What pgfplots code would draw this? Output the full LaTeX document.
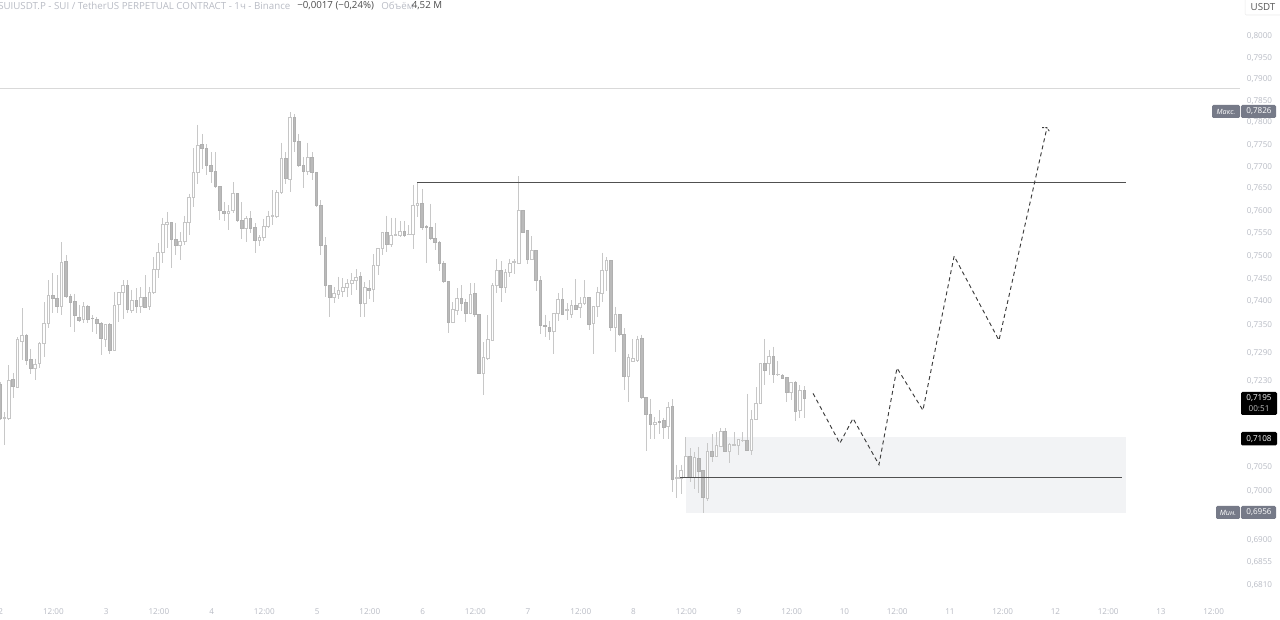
\documentclass[border=0pt]{standalone}
\usepackage{pgfplots}
\usepackage{pgfplotstable}
\usepackage{fontspec}
\setmainfont{Open Sans}
\pgfplotsset{compat=1.18}
\definecolor{lab}{HTML}{B8BBC4}
\definecolor{wick}{HTML}{C8C8C8}
\definecolor{upb}{HTML}{C6C6C6}
\definecolor{dnf}{HTML}{BABABA}
\definecolor{dnb}{HTML}{B0B0B0}
\definecolor{zone}{HTML}{F2F3F5}
\definecolor{lev}{HTML}{505050}
\definecolor{dash}{HTML}{3C3C3C}
\definecolor{stat}{HTML}{767A88}
\pgfplotstableread{
t o h l c
0 .7221 .7226 .7145 .7149
1 .7149 .7162 .7093 .7151
2 .7149 .7261 .7145 .7230
3 .7231 .7245 .7191 .7216
4 .7215 .7321 .7213 .7317
5 .7313 .7384 .7272 .7326
6 .7326 .7330 .7262 .7272
7 .7274 .7297 .7243 .7255
8 .7256 .7276 .7230 .7264
9 .7265 .7311 .7255 .7308
10 .7308 .7397 .7278 .7352
11 .7352 .7445 .7340 .7412
12 .7411 .7460 .7373 .7405
13 .7405 .7456 .7375 .7387
14 .7388 .7529 .7369 .7485
15 .7487 .7500 .7407 .7410
16 .7410 .7416 .7343 .7397
17 .7399 .7416 .7332 .7367
18 .7365 .7392 .7354 .7358
19 .7360 .7397 .7351 .7387
20 .7387 .7392 .7351 .7360
21 .7363 .7369 .7332 .7362
22 .7360 .7365 .7330 .7351
23 .7351 .7354 .7282 .7320
24 .7318 .7349 .7300 .7349
25 .7349 .7351 .7285 .7293
26 .7293 .7419 .7291 .7390
27 .7392 .7419 .7354 .7418
28 .7418 .7445 .7360 .7434
29 .7434 .7445 .7373 .7381
30 .7380 .7425 .7373 .7400
31 .7400 .7427 .7375 .7387
32 .7387 .7430 .7373 .7408
33 .7408 .7456 .7384 .7386
34 .7387 .7431 .7380 .7419
35 .7418 .7496 .7416 .7469
36 .7469 .7526 .7450 .7505
37 .7505 .7584 .7482 .7568
38 .7568 .7596 .7515 .7573
39 .7573 .7573 .7471 .7535
40 .7535 .7572 .7500 .7521
41 .7521 .7551 .7489 .7530
42 .7530 .7588 .7522 .7573
43 .7573 .7637 .7544 .7627
44 .7627 .7739 .7607 .7685
45 .7685 .7794 .7659 .7747
46 .7749 .7772 .7693 .7739
47 .7740 .7749 .7678 .7700
48 .7700 .7731 .7661 .7687
49 .7687 .7731 .7650 .7653
50 .7653 .7653 .7579 .7600
51 .7598 .7618 .7577 .7593
52 .7593 .7610 .7555 .7598
53 .7600 .7663 .7593 .7638
54 .7638 .7638 .7573 .7576
55 .7576 .7618 .7537 .7559
56 .7559 .7586 .7530 .7581
57 .7581 .7597 .7548 .7559
58 .7561 .7570 .7505 .7533
59 .7533 .7544 .7520 .7539
60 .7539 .7581 .7533 .7564
61 .7564 .7599 .7561 .7586
62 .7586 .7644 .7566 .7587
63 .7586 .7644 .7584 .7640
64 .7639 .7753 .7637 .7716
65 .7716 .7731 .7659 .7671
66 .7669 .7822 .7640 .7809
67 .7809 .7817 .7731 .7755
68 .7755 .7772 .7697 .7700
69 .7700 .7719 .7650 .7687
70 .7687 .7753 .7678 .7718
71 .7718 .7731 .7667 .7685
72 .7685 .7685 .7607 .7610
73 .7610 .7622 .7500 .7522
74 .7522 .7540 .7408 .7434
75 .7434 .7434 .7365 .7408
76 .7408 .7430 .7395 .7416
77 .7414 .7453 .7405 .7423
78 .7421 .7449 .7408 .7430
79 .7430 .7447 .7408 .7439
80 .7438 .7460 .7412 .7444
81 .7444 .7469 .7423 .7452
82 .7453 .7463 .7366 .7395
83 .7395 .7441 .7366 .7429
84 .7428 .7445 .7405 .7423
85 .7425 .7503 .7397 .7478
86 .7478 .7515 .7456 .7515
87 .7515 .7551 .7500 .7551
88 .7551 .7588 .7507 .7524
89 .7524 .7584 .7518 .7544
90 .7544 .7584 .7542 .7545
91 .7543 .7576 .7540 .7553
92 .7553 .7576 .7540 .7543
93 .7546 .7566 .7544 .7547
94 .7547 .7657 .7513 .7610
95 .7610 .7660 .7585 .7615
96 .7615 .7648 .7555 .7561
97 .7563 .7566 .7483 .7560
98 .7561 .7615 .7534 .7537
99 .7537 .7570 .7511 .7529
100 .7529 .7533 .7464 .7482
101 .7482 .7487 .7438 .7441
102 .7441 .7441 .7331 .7354
103 .7354 .7397 .7352 .7381
104 .7380 .7427 .7369 .7405
105 .7405 .7434 .7377 .7395
106 .7396 .7405 .7354 .7374
107 .7374 .7439 .7371 .7414
108 .7416 .7439 .7366 .7371
109 .7371 .7371 .7243 .7244
110 .7244 .7311 .7198 .7278
111 .7277 .7369 .7272 .7316
112 .7315 .7438 .7314 .7434
113 .7434 .7491 .7417 .7467
114 .7467 .7487 .7397 .7430
115 .7430 .7469 .7417 .7463
116 .7463 .7492 .7452 .7483
117 .7485 .7491 .7459 .7486
118 .7482 .7676 .7481 .7601
119 .7601 .7601 .7548 .7551
120 .7555 .7555 .7481 .7491
121 .7491 .7542 .7489 .7511
122 .7511 .7511 .7422 .7444
123 .7444 .7454 .7329 .7346
124 .7346 .7370 .7321 .7345
125 .7343 .7356 .7316 .7334
126 .7334 .7373 .7285 .7373
127 .7372 .7417 .7356 .7403
128 .7403 .7427 .7369 .7371
129 .7380 .7395 .7358 .7381
130 .7371 .7401 .7362 .7390
131 .7391 .7447 .7380 .7382
132 .7386 .7408 .7362 .7394
133 .7394 .7445 .7390 .7407
134 .7407 .7408 .7336 .7349
135 .7351 .7388 .7286 .7388
136 .7388 .7431 .7365 .7418
137 .7417 .7505 .7397 .7467
138 .7467 .7496 .7422 .7490
139 .7490 .7490 .7334 .7344
140 .7344 .7387 .7289 .7371
141 .7371 .7371 .7324 .7327
142 .7327 .7340 .7208 .7238
143 .7238 .7286 .7183 .7278
144 .7270 .7318 .7268 .7277
145 .7271 .7325 .7268 .7318
146 .7320 .7327 .7190 .7193
147 .7193 .7193 .7081 .7157
148 .7157 .7190 .7107 .7136
149 .7137 .7152 .7107 .7141
150 .7142 .7166 .7117 .7141
151 .7145 .7151 .7107 .7131
152 .7132 .7183 .7107 .7172
153 .7175 .7189 .6996 .7022
154 .7024 .7052 .6983 .7025
155 .7024 .7052 .6993 .7040
156 .7026 .7109 .7024 .7069
157 .7069 .7086 .7017 .7026
158 .7026 .7079 .7001 .7068
159 .7066 .7089 .6994 .7038
160 .7040 .7040 .6953 .6984
161 .6983 .7096 .6978 .7081
162 .7081 .7116 .7058 .7070
163 .7070 .7120 .7070 .7093
164 .7090 .7129 .7090 .7121
165 .7121 .7128 .7079 .7079
166 .7079 .7096 .7055 .7095
167 .7093 .7120 .7091 .7094
168 .7093 .7106 .7072 .7105
169 .7103 .7120 .7100 .7104
170 .7103 .7201 .7081 .7083
171 .7083 .7166 .7073 .7147
172 .7147 .7215 .7145 .7181
173 .7180 .7266 .7179 .7266
174 .7266 .7318 .7219 .7251
175 .7265 .7294 .7241 .7280
176 .7280 .7301 .7223 .7241
177 .7242 .7271 .7238 .7243
178 .7240 .7242 .7232 .7233
179 .7235 .7235 .7183 .7205
180 .7205 .7225 .7187 .7225
181 .7226 .7228 .7143 .7164
182 .7165 .7219 .7151 .7208
183 .7208 .7217 .7150 .7191
}\candles
\begin{document}
\begin{tikzpicture}
\path[use as bounding box] (0,0) rectangle (960pt,465pt);
\begin{axis}[
  at={(0,15pt)}, anchor=south west,
  width=930pt, height=450pt, scale only axis,
  xmin=0, xmax=282.15,
  ymode=log, ymin=0.67776, ymax=0.80826,
  axis line style={draw=none},
  clip=true,
  major tick length=0pt, minor tick length=0pt,
  ytick={0.8,0.795,0.79,0.785,0.78,0.775,0.77,0.765,0.76,0.755,0.75,0.745,0.74,0.735,0.729,0.723,0.705,0.70,0.69,0.6855,0.681},
  yticklabels={{0,8000},{0,7950},{0,7900},{0,7850},{0,7800},{0,7750},{0,7700},{0,7650},{0,7600},{0,7550},{0,7500},{0,7450},{0,7400},{0,7350},{0,7290},{0,7230},{0,7050},{0,7000},{0,6900},{0,6855},{0,6810}},
  yticklabel pos=right,
  yticklabel style={font=\fontsize{6.1}{7}\selectfont, text=lab, anchor=center, xshift=14.6pt, yshift=-0.6pt, inner sep=0pt},
  xtick={0,12,...,276},
  xticklabels={2,12:00,3,12:00,4,12:00,5,12:00,6,12:00,7,12:00,8,12:00,9,12:00,10,12:00,11,12:00,12,12:00,13,12:00},
  xticklabel style={font=\fontsize{6.1}{7}\selectfont, text=lab, anchor=center, yshift=-9pt, xshift=0.5pt, inner sep=0pt},
  ymajorgrids=false, xmajorgrids=false,
]
% demand zone, behind the candles
\addplot[fill=zone, draw=none] coordinates {(156.1,0.7110)(256.2,0.7110)(256.2,0.6953)(156.1,0.6953)} --cycle;
% pane separator
\addplot[draw=black!15, line width=0.6pt] coordinates {(0,0.7876)(282.15,0.7876)};
\pgfplotstablegetrowsof{\candles}
\pgfmathtruncatemacro{\lastrow}{\pgfplotsretval-1}
\foreach \r in {0,...,\lastrow}{
  \pgfplotstablegetelem{\r}{t}\of\candles \let\cT\pgfplotsretval
  \pgfplotstablegetelem{\r}{o}\of\candles \let\cO\pgfplotsretval
  \pgfplotstablegetelem{\r}{h}\of\candles \let\cH\pgfplotsretval
  \pgfplotstablegetelem{\r}{l}\of\candles \let\cL\pgfplotsretval
  \pgfplotstablegetelem{\r}{c}\of\candles \let\cC\pgfplotsretval
  \pgfmathsetmacro{\xa}{\cT-0.3}
  \pgfmathsetmacro{\xb}{\cT+0.3}
  \pgfmathparse{\cC>=\cO?1:0}
  \addplot[draw=wick, line width=0.6pt] coordinates {(\cT,\cH)(\cT,\cL)};
  \ifnum\pgfmathresult=1\relax
    \addplot[draw=upb, fill=white, line width=0.6pt] coordinates {(\xa,\cO)(\xb,\cO)(\xb,\cC)(\xa,\cC)} --cycle;
  \else
    \addplot[draw=dnb, fill=dnf, line width=0.6pt] coordinates {(\xa,\cO)(\xb,\cO)(\xb,\cC)(\xa,\cC)} --cycle;
  \fi
}
% levels
\addplot[draw=lev, line width=0.75pt] coordinates {(94.9,0.7662)(256.2,0.7662)};
\addplot[draw=lev, line width=0.75pt] coordinates {(154.7,0.7026)(255.3,0.7026)};
% projected path
\addplot[draw=dash, line width=0.7pt, dash pattern=on 3pt off 2.4pt] coordinates {
 (185.0,0.7202)(191.1,0.7097)(194.1,0.7149)(200,0.7052)(204.1,0.7255)(210,0.7166)(217.1,0.7498)(227.3,0.7315)(238.2,0.7785)};
\addplot[draw=dash, line width=0.7pt, dash pattern=on 1.6pt off 1pt] coordinates {(237.1,0.7787)(238.2,0.7787)(238.9,0.7776)};
\end{axis}
\begin{scope}[x=0.75pt,y=-0.75pt,shift={(0,465pt)}]
  \def\tf{\fontsize{7.3}{8}\selectfont}
  \def\sf{\fontsize{6.1}{7}\selectfont}
  % header
  \node[anchor=west,inner sep=0pt,text=lab,font=\tf] at (-2,6) {SUIUSDT.P - SUI / TetherUS PERPETUAL CONTRACT - 1ч - Binance};
  \node[anchor=west,inner sep=0pt,text=black!70,font=\tf] at (297,6) {−0,0017 (−0,24\%)};
  \node[anchor=west,inner sep=0pt,text=lab,font=\tf] at (381,6) {Объём};
  \node[anchor=west,inner sep=0pt,text=black!70,font=\tf] at (411.5,6) {4,52 M};
  % currency button
  \draw[draw=black!8,fill=white,rounded corners=1pt] (1245,-3) rectangle (1285,15);
  \node[inner sep=0pt,text=black!65,font=\tf] at (1263,7) {USDT};
  % max
  \fill[stat,rounded corners=1pt] (1212,105) rectangle (1240,118);
  \fill[stat,rounded corners=1pt] (1241,105) rectangle (1276,118);
  \node[inner sep=0pt,text=white,font=\fontsize{5.4}{6}\selectfont\itshape] at (1226,111.5) {Макс.};
  \node[inner sep=0pt,text=white,font=\sf] at (1259,111.5) {0,7826};
  % min
  \fill[stat,rounded corners=1pt] (1216,506) rectangle (1240,519);
  \fill[stat,rounded corners=1pt] (1241,506) rectangle (1276,519);
  \node[inner sep=0pt,text=white,font=\fontsize{5.4}{6}\selectfont\itshape] at (1228,512.5) {Мин.};
  \node[inner sep=0pt,text=white,font=\sf] at (1259,512.5) {0,6956};
  % current price
  \fill[black,rounded corners=1pt] (1241,392) rectangle (1277,415);
  \node[inner sep=0pt,text=white,font=\sf] at (1259,398) {0,7195};
  \node[inner sep=0pt,text=black!25,font=\sf] at (1259,408.5) {00:51};
  \fill[black,rounded corners=1pt] (1241,432) rectangle (1277,445.5);
  \node[inner sep=0pt,text=white,font=\sf] at (1259,439) {0,7108};
\end{scope}
\end{tikzpicture}
\end{document}
